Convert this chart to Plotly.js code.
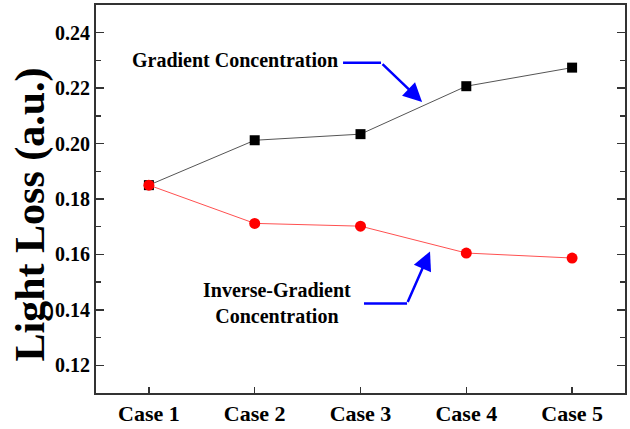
<!DOCTYPE html>
<html>
<head>
<meta charset="utf-8">
<script src="https://cdn.plot.ly/plotly-3.0.1.min.js"></script>
<style>html,body{margin:0;padding:0;background:#fff;}#chart{width:630px;height:429px;}</style>
</head>
<body>
<div id="chart"></div>
<script>
const categories = ["Case 1", "Case 2", "Case 3", "Case 4", "Case 5"];
const gradient = [0.1850, 0.2012, 0.2034, 0.2207, 0.2274];
const inverseGradient = [0.1850, 0.1712, 0.1702, 0.1605, 0.1587];
const yTickVals = [0.12, 0.14, 0.16, 0.18, 0.20, 0.22, 0.24];
const yTickText = ["0.12", "0.14", "0.16", "0.18", "0.20", "0.22", "0.24"];
const yTitle = "Light Loss (a.u.)";

const FONT = "'Liberation Serif', 'Times New Roman', 'DejaVu Serif', serif";
const idx = categories.map((_, i) => i);

const traces = [
  {
    x: idx, y: gradient, type: "scatter", mode: "lines+markers",
    line: {color: "#555555", width: 1},
    marker: {symbol: "square", size: 10, color: "#000000"},
    name: "Gradient Concentration"
  },
  {
    x: idx, y: inverseGradient, type: "scatter", mode: "lines+markers",
    line: {color: "#ff5050", width: 1},
    marker: {symbol: "circle", size: 11, color: "#ff0000"},
    name: "Inverse-Gradient Concentration"
  }
];

const blue = "#0000ff";
const layout = {
  width: 630, height: 429,
  margin: {l: 96, r: 5, t: 5, b: 36},
  paper_bgcolor: "#fff", plot_bgcolor: "#fff",
  showlegend: false,
  font: {family: FONT, color: "#000"},
  xaxis: {
    range: [-0.5, 4.5],
    tickmode: "array", tickvals: idx, ticktext: categories,
    ticks: "inside", ticklen: 6, tickwidth: 1.5, tickcolor: "#333",
    showline: true, linecolor: "#333", linewidth: 2, mirror: true,
    showgrid: false, zeroline: false,
    tickfont: {family: FONT, size: 22, color: "#000", weight: "bold"}
  },
  yaxis: {
    range: [0.11, 0.25],
    tickmode: "array", tickvals: yTickVals, ticktext: yTickText,
    ticks: "inside", ticklen: 8, tickwidth: 1.5, tickcolor: "#333",
    minor: {dtick: 0.01, ticks: "inside", ticklen: 5, tickwidth: 1.5, tickcolor: "#333"},
    showline: true, linecolor: "#333", linewidth: 2, mirror: "ticks",
    showgrid: false, zeroline: false,
    tickfont: {family: FONT, size: 20, color: "#000", weight: "bold"}
  },
  shapes: [
    {type: "line", xref: "x", yref: "y", x0: 1.835, y0: 0.2292, x1: 2.194, y1: 0.2292, line: {color: blue, width: 2.5}},
    {type: "line", xref: "x", yref: "y", x0: 2.033, y0: 0.1423, x1: 2.440, y1: 0.1423, line: {color: blue, width: 2.5}}
  ],
  annotations: [
    {x: -0.123, y: 0.1744, xref: "paper", yref: "y", xanchor: "center", yanchor: "middle", textangle: -90,
     showarrow: false, text: yTitle, font: {family: FONT, size: 42, color: "#000", weight: "bold"}},
    {x: 2.582, y: 0.2150, ax: 2.194, ay: 0.2292, axref: "x", ayref: "y", xref: "x", yref: "y",
     showarrow: true, arrowhead: 2, arrowsize: 1.5, arrowwidth: 2.5, arrowcolor: blue, text: ""},
    {x: 2.657, y: 0.1611, ax: 2.440, ay: 0.1423, axref: "x", ayref: "y", xref: "x", yref: "y",
     showarrow: true, arrowhead: 2, arrowsize: 1.5, arrowwidth: 2.5, arrowcolor: blue, text: ""},
    {x: 1.806, y: 0.2300, xref: "x", yref: "y", xanchor: "right", yanchor: "middle", showarrow: false,
     text: "Gradient Concentration", font: {family: FONT, size: 20, color: "#000", weight: "bold"}},
    {x: 1.21, y: 0.1423, xref: "x", yref: "y", xanchor: "center", yanchor: "middle", showarrow: false, align: "center",
     text: "Inverse-Gradient<br>Concentration", font: {family: FONT, size: 20, color: "#000", weight: "bold"}}
  ]
};

Plotly.newPlot("chart", traces, layout, {displayModeBar: false, staticPlot: true});
</script>
</body>
</html>
